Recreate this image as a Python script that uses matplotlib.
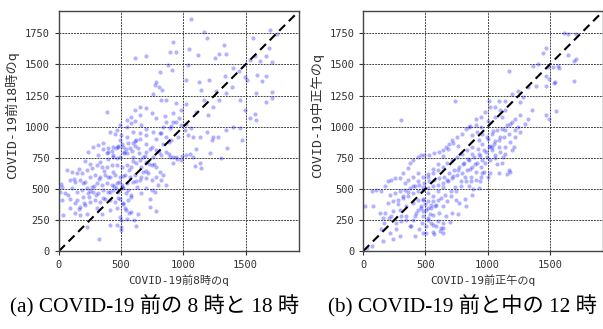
"""
Scatter of traffic volume q: COVID-19 before (8h vs 18h) and before/during (12h)
"""
import numpy as np
import matplotlib
matplotlib.use('Agg')
import matplotlib.pyplot as plt

MONO = ['DejaVu Sans Mono', 'Noto Sans CJK JP']
SERIF = ['Liberation Serif', 'Noto Sans CJK JP']

# (a) before COVID-19: q at 8h (x) vs q at 18h (y)
qa_8h = [
    1064, 1163, 1190, 1693, 1559, 1754, 917, 938, 890, 1043, 1117, 1329, 1286, 1345,
    703, 615, 1575, 1620, 1666, 1687, 1709, 1537, 1038, 880, 907, 810, 1399, 1447,
    1251, 1203, 1122, 1019, 1332, 1390, 1497, 1510, 1594, 1666, 1631, 1586, 1709, 1712,
    1666, 778, 805, 831, 770, 821, 864, 754, 1163, 1144, 1259, 1345, 1286, 1452,
    1492, 1238, 1198, 1104, 1024, 984, 944, 917, 966, 1024, 1064, 1011, 917, 890,
    864, 837, 783, 746, 703, 650, 610, 650, 583, 543, 489, 610, 388, 463,
    409, 452, 495, 543, 596, 650, 703, 757, 810, 864, 904, 957, 1038, 1078,
    1131, 1190, 1238, 1278, 1345, 1399, 1452, 1230, 1353, 1471, 1537, 1586, 1578, 1211,
    1305, 1144, 1091, 1131, 1078, 1024, 984, 944, 917, 890, 864, 824, 783, 746,
    703, 677, 637, 596, 556, 516, 476, 436, 396, 356, 316, 276, 235, 316,
    382, 436, 489, 543, 596, 650, 703, 746, 783, 810, 837, 783, 746, 703,
    717, 677, 663, 623, 583, 543, 503, 463, 423, 382, 342, 302, 262, 222,
    182, 142, 102, 62, 88, 128, 168, 209, 249, 289, 329, 369, 409, 452,
    489, 529, 570, 610, 650, 596, 543, 503, 463, 423, 382, 342, 302, 262,
    222, 182, 142, 102, 75, 21, 8, 21, 35, 142, 195, 235, 276, 316,
    356, 396, 436, 476, 516, 556, 583, 556, 516, 489, 452, 409, 369, 329,
    289, 249, 209, 168, 128, 88, 168, 222, 302, 342, 409, 463, 529, 583,
    637, 730, 770, 489, 543, 602, 495, 495, 321, 409, 222, 623, 783, 746,
    703, 663, 629, 730, 797, 824, 864, 521, 463, 489, 570, 623, 543, 583,
    455, 472, 507, 428, 523, 541, 584, 612, 437, 393, 331, 253, 212, 158,
    118, 193, 247, 297, 352, 408, 457, 503, 538, 577, 618, 662, 697, 724,
    758, 803, 838, 882, 762, 688, 643, 598, 561, 518, 483, 441, 398, 362,
    318, 283, 238, 203, 161, 132, 92, 48, 17, 478, 512, 537, 561, 498,
    468, 432, 391, 352, 611, 648, 702, 731, 884, 913, 948, 993, 1052, 1098,
    902, 937, 983, 818, 782, 853, 697, 661,
]
qa_18h = [
    1867, 1762, 1713, 1775, 1713, 1746, 1679, 1598, 1598, 1625, 1579, 1660, 1587, 1587,
    1571, 1552, 1571, 1531, 1566, 1633, 1520, 1533, 1493, 1498, 1458, 1439, 1471, 1444,
    1552, 1372, 1356, 1377, 1404, 1318, 1396, 1372, 1415, 1410, 1364, 1267, 1280, 1229,
    1197, 1358, 1318, 1297, 1332, 1216, 1216, 1262, 1216, 1297, 1283, 1270, 1216, 1216,
    1135, 1162, 1095, 1114, 1181, 1135, 1189, 1108, 1068, 1022, 987, 974, 1041, 987,
    1041, 1000, 1068, 1108, 1149, 1162, 1135, 1095, 1081, 1054, 1014, 1049, 1116, 974,
    960, 941, 933, 920, 960, 947, 933, 960, 947, 920, 893, 920, 933, 920,
    920, 960, 920, 920, 974, 1000, 987, 893, 826, 893, 1068, 1054, 1100, 785,
    745, 664, 686, 710, 758, 772, 732, 758, 705, 758, 799, 772, 812, 839,
    799, 758, 826, 866, 866, 839, 839, 839, 826, 866, 853, 839, 799, 772,
    785, 758, 758, 785, 758, 732, 718, 691, 678, 638, 611, 597, 570, 584,
    624, 638, 678, 705, 678, 691, 678, 691, 691, 678, 678, 691, 664, 651,
    624, 624, 638, 651, 570, 557, 570, 557, 597, 611, 597, 611, 597, 611,
    597, 611, 597, 611, 570, 557, 543, 530, 543, 530, 543, 530, 543, 516,
    503, 490, 476, 503, 449, 516, 476, 409, 288, 409, 436, 463, 476, 463,
    490, 476, 490, 476, 503, 490, 449, 409, 382, 422, 395, 409, 422, 395,
    409, 395, 369, 355, 382, 342, 288, 301, 342, 301, 328, 342, 342, 315,
    301, 355, 476, 274, 261, 247, 194, 167, 100, 207, 194, 199, 323, 490,
    503, 463, 516, 422, 530, 570, 530, 799, 745, 893, 826, 893, 1000, 1027,
    832, 847, 861, 808, 788, 817, 803, 842, 768, 741, 713, 698, 722, 658,
    577, 543, 482, 453, 428, 472, 503, 518, 468, 433, 562, 592, 643, 702,
    757, 798, 862, 878, 703, 762, 791, 721, 652, 603, 558, 521, 598, 641,
    583, 522, 431, 388, 337, 302, 418, 468, 538, 428, 377, 331, 302, 248,
    211, 632, 798, 822, 881, 902, 857, 818, 782, 757, 741, 762, 778, 822,
    1003, 1041, 1012, 951, 903, 1088, 982, 1011,
]

# (b) 12h: before COVID-19 (x) vs during COVID-19 (y)
qb_before = [
    1612, 1646, 1712, 1473, 1447, 1643, 1694, 1707, 1566, 1574, 1407, 1367, 1487, 1529,
    1168, 1386, 1473, 1492, 1532, 1545, 1473, 1694, 741, 305, 1327, 1288, 1248, 1195,
    1142, 1089, 1261, 1354, 1473, 1492, 1553, 1327, 1301, 1248, 1195, 1155, 1115, 1062,
    1022, 1009, 1062, 1102, 1142, 982, 943, 903, 850, 823, 797, 757, 717, 690,
    664, 637, 611, 571, 531, 491, 465, 438, 398, 372, 358, 319, 292, 252,
    226, 199, 173, 146, 106, 66, 80, 13, 133, 159, 173, 226, 266, 305,
    345, 372, 292, 239, 159, 66, 27, 266, 412, 451, 478, 505, 545, 584,
    624, 637, 664, 717, 770, 743, 823, 876, 929, 956, 1022, 1089, 1168, 1115,
    1062, 1142, 1195, 1208, 1089, 1035, 996, 956, 916, 876, 836, 797, 757, 717,
    677, 637, 598, 558, 518, 478, 438, 398, 358, 319, 279, 239, 199, 292,
    345, 398, 438, 478, 518, 558, 598, 584, 545, 505, 465, 425, 478, 518,
    558, 611, 637, 677, 704, 743, 783, 823, 863, 903, 943, 982, 1022, 1062,
    1102, 1142, 1182, 1221, 1261, 1221, 1168, 1128, 1089, 1049, 1009, 969, 929, 890,
    850, 810, 770, 730, 690, 650, 611, 571, 531, 491, 451, 412, 372, 332,
    292, 252, 213, 876, 916, 956, 996, 1035, 1075, 1115, 929, 876, 836, 797,
    757, 717, 677, 637, 598, 558, 518, 478, 438, 398, 358, 332, 903, 943,
    969, 850, 863, 1182, 1035, 478, 505, 571, 146, 213, 637, 545,
    482, 497, 523, 538, 461, 443, 418, 402, 473, 521, 558, 603, 641, 578,
    623, 657, 703, 738, 782, 818, 862, 897, 942, 983, 1018, 1063, 1097, 1143,
    1178, 1223, 1258, 1042, 1003, 958, 921, 878, 842, 801, 763, 718, 683, 642,
    597, 563, 517, 483, 442, 403, 361, 318, 283, 238, 203, 168, 343, 302,
    383, 561, 618, 698, 763, 818, 883, 938, 1002, 1078, 1122, 1153, 762, 721,
    683, 638, 603, 558, 522, 858, 903, 948, 1003,
]
qb_during = [
    1755, 1742, 1745, 1636, 1596, 1580, 1529, 1548, 1489, 1471, 1503, 1489, 1476, 1476,
    1444, 1330, 1410, 1383, 1351, 1356, 1330, 1370, 1210, 1056, 1322, 1237, 1290, 1264,
    1210, 1210, 1197, 1130, 1091, 1064, 1125, 1064, 1024, 997, 1037, 1011, 1077, 1077,
    1157, 1210, 1157, 1130, 1130, 1117, 1077, 1011, 997, 984, 944, 918, 891, 864,
    838, 811, 798, 785, 771, 771, 771, 758, 731, 705, 665, 625, 585, 585,
    572, 559, 519, 479, 492, 479, 359, 359, 306, 266, 306, 279, 226, 279,
    253, 200, 120, 93, 80, 40, 27, 173, 120, 173, 146, 200, 226, 200,
    186, 226, 279, 306, 386, 412, 359, 452, 505, 625, 625, 625, 652, 705,
    744, 784, 811, 838, 838, 811, 758, 731, 705, 678, 652, 625, 612, 585,
    572, 545, 532, 519, 505, 492, 479, 465, 439, 425, 412, 399, 386, 333,
    359, 386, 412, 412, 399, 399, 412, 372, 346, 333, 346, 306, 279, 266,
    293, 306, 359, 399, 439, 479, 519, 559, 598, 638, 678, 705, 731, 771,
    798, 838, 878, 918, 958, 971, 944, 918, 891, 864, 838, 811, 784, 758,
    731, 705, 678, 652, 625, 598, 585, 572, 559, 545, 532, 519, 505, 492,
    479, 465, 452, 931, 958, 944, 918, 944, 971, 984, 891, 838, 811, 784,
    758, 731, 705, 678, 652, 625, 598, 598, 625, 598, 572, 545, 572, 598,
    638, 519, 559, 638, 838, 319, 146, 133, 173, 146, 146, 372,
    418, 377, 342, 297, 362, 328, 283, 252, 228, 247, 212, 238, 188, 358,
    423, 448, 483, 517, 562, 598, 657, 703, 762, 798, 843, 883, 918, 977,
    1022, 1058, 1097, 962, 902, 861, 818, 783, 738, 703, 648, 603, 561, 518,
    481, 443, 468, 517, 563, 521, 478, 443, 378, 318, 262, 228, 282, 238,
    198, 152, 162, 232, 298, 418, 502, 563, 598, 703, 757, 618, 848, 872,
    818, 763, 702, 661, 622, 1002, 1063, 998, 1048,
]

panels = [
    (qa_8h, qa_18h, 'COVID-19前8時のq', 'COVID-19前18時のq',
     '(a) COVID-19 前の 8 時と 18 時'),
    (qb_before, qb_during, 'COVID-19前正午のq', 'COVID-19中正午のq',
     '(b) COVID-19 前と中の 12 時'),
]

W, H = 603, 329
fig = plt.figure(figsize=(W / 100, H / 100), dpi=100)
lefts = [59, 363.3]
captions_x = [155, 462]
lim = 1930

for left, cx, (x, y, xlabel, ylabel, caption) in zip(lefts, captions_x, panels):
    ax = fig.add_axes([left / W, (H - 251) / H, 240 / W, 240 / H])
    ax.scatter(x, y, s=9, color='blue', alpha=0.3, linewidths=0)
    ax.plot([0, lim], [0, lim], '--', color='black', lw=1.5, dashes=(4, 2.5))
    ax.set_xlim(0, lim)
    ax.set_ylim(0, lim)
    ax.set_xticks([0, 500, 1000, 1500])
    ax.set_yticks(np.arange(0, 1751, 250))
    ax.grid(True, linestyle=(0, (2, 1)), color='#444444', linewidth=0.7)
    ax.set_axisbelow(True)
    ax.tick_params(labelsize=7.5, colors='#333333', length=3)
    for lab in ax.get_xticklabels() + ax.get_yticklabels():
        lab.set_family(MONO)
    for sp in ax.spines.values():
        sp.set_color('#444444')
        sp.set_linewidth(1.0)
    ax.set_xlabel(xlabel, family=MONO, fontsize=8, color='#333333', labelpad=3)
    ax.set_ylabel(ylabel, family=MONO, fontsize=9.5, color='#333333')
    ax.yaxis.set_label_coords(-0.165, 0.565)
    fig.text(cx / W, 1 - 306 / H, caption, family=SERIF,
             fontsize=15.3, ha='center', va='center')

fig.savefig('out.png', dpi=100)
